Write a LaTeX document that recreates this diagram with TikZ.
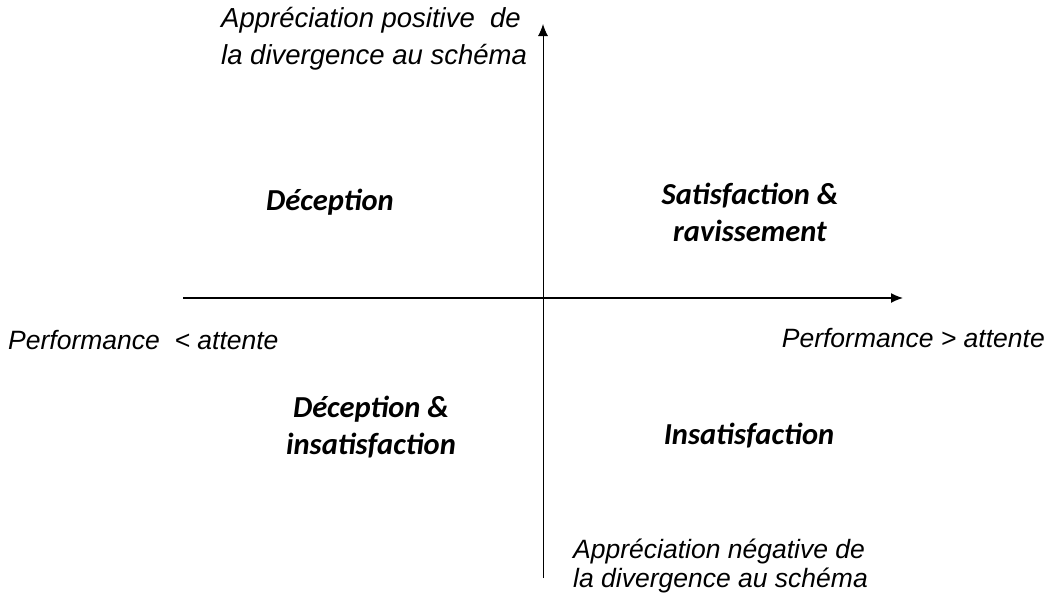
\documentclass[tikz,border=0pt]{standalone}
\usepackage{fontspec}
\setmainfont{Liberation Sans}
\newfontfamily\carlito{Carlito}
\usetikzlibrary{arrows.meta}

\begin{document}
\begin{tikzpicture}[x=1pt,y=-1pt,
    axe/.style={-{Latex[length=12pt,width=10pt]}, line width=1.4pt},
    etiq/.style={font=\fontsize{26.5}{36}\selectfont\itshape, align=left, inner sep=0pt},
    quad/.style={font=\fontsize{30.5}{37}\carlito\bfseries\itshape, align=center, inner sep=0pt}]
    \useasboundingbox (0,0) rectangle (1050,592);

    % axes
    \coordinate (O) at (543,298);
    \coordinate (xg) at (183,298);
    \coordinate (xd) at (903,298);
    \coordinate (yb) at (543,578);
    \coordinate (yh) at (543,24);
    \draw[axe] (xg) -- (xd);
    \draw[axe, line width=1pt] (yb) -- (yh);

    % axis labels
    \node[etiq, anchor=west, font=\fontsize{27.5}{37}\selectfont\itshape] (posi) at (221,39) {Appréciation positive\ \ de\\la divergence au schéma};
    \node[etiq, anchor=west, font=\fontsize{26.5}{29}\selectfont\itshape] (nega) at (573,566) {Appréciation négative de\\la divergence au schéma};
    \node[etiq, anchor=west] (perfmoins) at (8,340) {Performance\ \ < attente};
    \node[etiq, anchor=east] (perfplus) at (1045,338) {Performance > attente};

    % quadrants
    \node[quad] (decep) at (330,202) {Déception};
    \node[quad] (satis) at (750,212) {Satisfaction \&\\ravissement};
    \node[quad] (decinsat) at (371,427) {Déception \&\\insatisfaction};
    \node[quad] (insat) at (749,436) {Insatisfaction};

\end{tikzpicture}
\end{document}
